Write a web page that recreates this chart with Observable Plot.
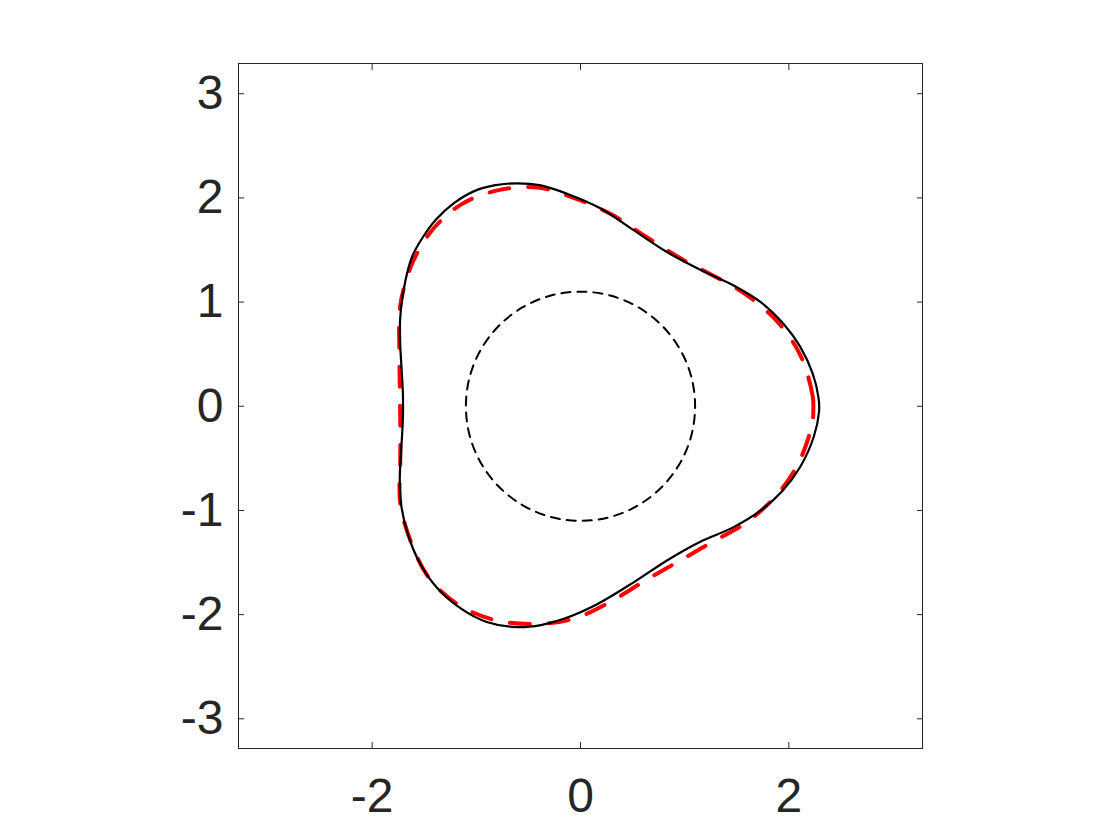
<!DOCTYPE html>
<html>
<head>
<meta charset="utf-8">
<script src="https://cdn.jsdelivr.net/npm/d3@7"></script>
<script src="https://cdn.jsdelivr.net/npm/@observablehq/plot@0.6"></script>
<style>
  html, body { margin: 0; padding: 0; background: #ffffff; }
</style>
</head>
<body>
<div id="chart"></div>
<script>
// Solid black boundary, counter-clockwise from the right
const solidX = [2.29, 2.285, 2.23, 2.11, 1.95, 1.73, 1.47, 1.15, 0.83, 0.51, 0.19, -0.13, -0.38, -0.61, -0.83, -1.02, -1.215, -1.385, -1.515, -1.615, -1.68, -1.725, -1.735, -1.72, -1.705, -1.705, -1.72, -1.735, -1.725, -1.66, -1.54, -1.38, -1.15, -0.90, -0.61, -0.38, -0.16, 0.16, 0.51, 0.83, 1.15, 1.47, 1.73, 1.94, 2.11, 2.24];
const solidY = [-0.05, 0.08, 0.31, 0.57, 0.79, 1.00, 1.16, 1.31, 1.48, 1.69, 1.90, 2.04, 2.12, 2.14, 2.12, 2.065, 1.95, 1.795, 1.62, 1.44, 1.21, 0.92, 0.70, 0.40, 0.12, -0.12, -0.40, -0.70, -0.92, -1.22, -1.51, -1.74, -1.94, -2.07, -2.12, -2.10, -2.04, -1.90, -1.69, -1.48, -1.30, -1.16, -1.00, -0.81, -0.58, -0.29];

// Red dashed boundary
const dashedX = [2.235, 2.23, 2.12, 1.91, 1.62, 1.30, 0.96, 0.625, 0.30, -0.04, -0.41, -0.785, -1.14, -1.425, -1.62, -1.73, -1.74, -1.735, -1.73, -1.73, -1.73, -1.63, -1.46, -1.18, -0.83, -0.45, -0.07, 0.28, 0.61, 0.94, 1.27, 1.60, 1.89, 2.10, 2.225];
const dashedY = [-0.03, 0.09, 0.47, 0.79, 1.05, 1.24, 1.42, 1.63, 1.84, 1.99, 2.10, 2.075, 1.94, 1.69, 1.36, 0.97, 0.60, 0.22, -0.16, -0.54, -0.935, -1.295, -1.64, -1.90, -2.05, -2.09, -2.04, -1.88, -1.68, -1.49, -1.30, -1.11, -0.845, -0.53, -0.165];

// Inner dotted circle (radius about 1.1)
const circleX = [1.10, 1.063, 0.953, 0.778, 0.55, 0.285, 0, -0.285, -0.55, -0.778, -0.953, -1.063, -1.10, -1.063, -0.953, -0.778, -0.55, -0.285, 0, 0.285, 0.55, 0.778, 0.953, 1.063];
const circleY = [0, 0.285, 0.55, 0.778, 0.953, 1.063, 1.10, 1.063, 0.953, 0.778, 0.55, 0.285, 0, -0.285, -0.55, -0.778, -0.953, -1.063, -1.10, -1.063, -0.953, -0.778, -0.55, -0.285];

const xTicks = [-2, 0, 2];
const yTicks = [-3, -2, -1, 0, 1, 2, 3];

const toPts = (xs, ys) => xs.map((x, i) => ({x, y: ys[i]}));
const axisColor = "#262626";
const fontFamily = "'Liberation Sans', Arial, Helvetica, sans-serif";
const fmt = d => String(d);

const chart = Plot.plot({
  width: 1120,
  height: 840,
  marginLeft: 238,
  marginRight: 198,
  marginTop: 63,
  marginBottom: 92,
  style: {fontFamily, background: "#ffffff", color: axisColor},
  x: {domain: [-3.283, 3.283]},
  y: {domain: [-3.285, 3.29]},
  marks: [
    Plot.line(toPts(dashedX, dashedY), {x: "x", y: "y", curve: "catmull-rom-closed", stroke: "#ff0000", strokeWidth: 4, strokeDasharray: "20,19"}),
    Plot.line(toPts(circleX, circleY), {x: "x", y: "y", curve: "catmull-rom-closed", stroke: "#000000", strokeWidth: 2, strokeDasharray: "9,7"}),
    Plot.line(toPts(solidX, solidY), {x: "x", y: "y", curve: "catmull-rom-closed", stroke: "#000000", strokeWidth: 2.2}),
    Plot.frame({stroke: axisColor, strokeWidth: 1}),
    // tick labels
    Plot.axisX(xTicks, {anchor: "bottom", tickSize: 0, tickPadding: 29, tickFormat: fmt, fontSize: 48, fill: axisColor, label: null}),
    Plot.axisY(yTicks, {anchor: "left", tickSize: 0, tickPadding: 15, tickFormat: fmt, fontSize: 48, fill: axisColor, label: null}),
    // inward ticks on all four sides
    Plot.axisX(xTicks, {anchor: "bottom", tickSize: -6, tickFormat: () => "", stroke: axisColor, label: null}),
    Plot.axisX(xTicks, {anchor: "top", tickSize: -6, tickFormat: () => "", stroke: axisColor, label: null}),
    Plot.axisY(yTicks, {anchor: "left", tickSize: -6, tickFormat: () => "", stroke: axisColor, label: null}),
    Plot.axisY(yTicks, {anchor: "right", tickSize: -6, tickFormat: () => "", stroke: axisColor, label: null})
  ]
});
document.getElementById("chart").appendChild(chart);
</script>
</body>
</html>
